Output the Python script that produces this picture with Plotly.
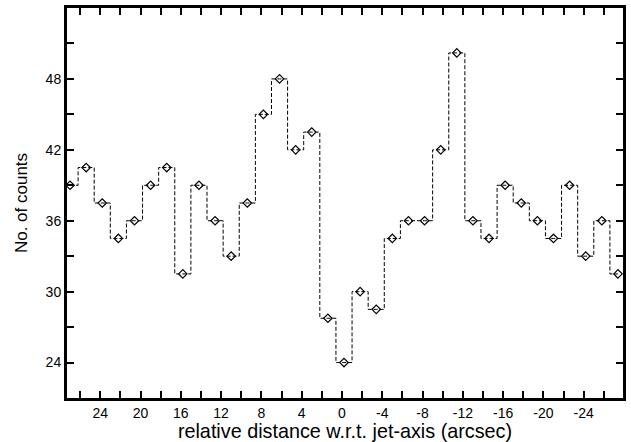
import plotly.graph_objects as go

x_start = 27.0
x_step = 1.6
counts = [39, 40.5, 37.5, 34.5, 36, 39, 40.5, 31.5, 39, 36, 33, 37.5, 45, 48, 42, 43.5,
          27.75, 24, 30, 28.5, 34.5, 36, 36, 42, 50.2, 36, 34.5, 39, 37.5, 36, 34.5, 39,
          33, 36, 31.5]
distance = [round(x_start - x_step * i, 2) for i in range(len(counts))]

x_ticks = [24, 20, 16, 12, 8, 4, 0, -4, -8, -12, -16, -20, -24]
y_ticks = [24, 30, 36, 42, 48]

fig = go.Figure()
fig.add_trace(go.Scatter(
    x=distance, y=counts, mode="lines+markers",
    line=dict(shape="hvh", color="black", width=1, dash="4px,2px"),
    marker=dict(symbol="diamond-open", size=6.5, color="black", line=dict(width=1.2, color="black")),
    showlegend=False,
))

axis_common = dict(
    showline=True, linecolor="black", linewidth=3, mirror="ticks",
    ticks="inside", ticklen=7, tickwidth=2, tickcolor="black",
    showgrid=False, zeroline=False,
    tickfont=dict(family="Liberation Sans, Arial", size=14, color="black"),
)

fig.update_xaxes(
    range=[27.3, -27.9], tickmode="array", tickvals=x_ticks,
    ticktext=[str(v) for v in x_ticks],
    minor=dict(tickmode="array", tickvals=[v for v in range(-26, 27, 2) if v % 4 != 0],
               ticks="inside", ticklen=7, tickwidth=2, tickcolor="black"),
    title=dict(text="relative distance w.r.t. jet-axis (arcsec)",
               font=dict(family="Liberation Sans, Arial", size=19.8, color="black"), standoff=2),
    **axis_common,
)
fig.update_yaxes(
    range=[21, 54], tickmode="array", tickvals=y_ticks,
    ticktext=[str(v) for v in y_ticks],
    minor=dict(tickmode="array", tickvals=[27, 33, 39, 45, 51],
               ticks="inside", ticklen=7, tickwidth=2, tickcolor="black"),
    title=dict(text="No. of counts",
               font=dict(family="Liberation Sans, Arial", size=17, color="black"), standoff=14),
    **axis_common,
)

fig.update_layout(
    width=631, height=442,
    margin=dict(l=67, r=6, t=5, b=44),
    paper_bgcolor="white", plot_bgcolor="white",
)

fig.write_html("out.html")
